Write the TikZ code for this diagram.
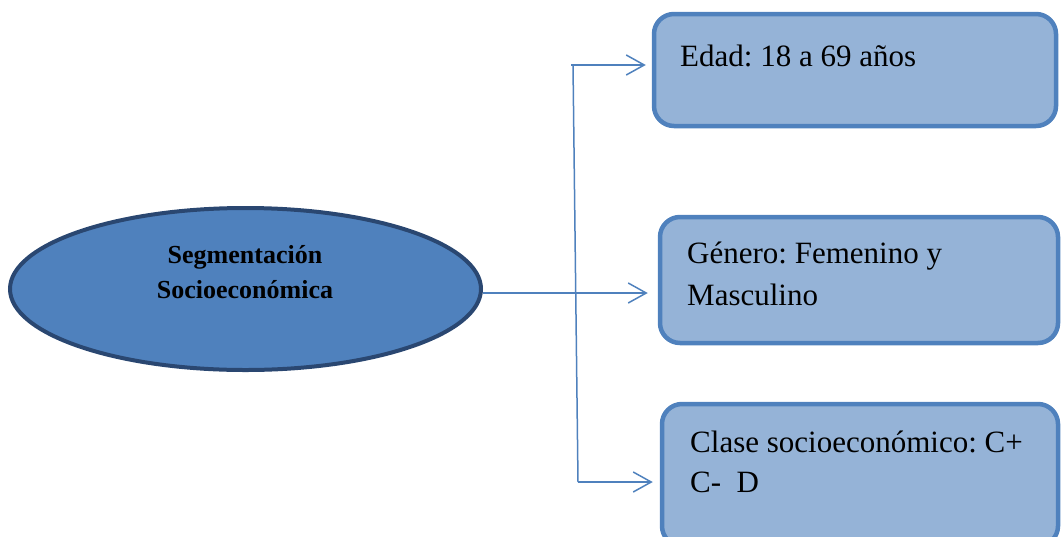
\documentclass[tikz,border=0pt]{standalone}
\usepackage{fontspec}
\setmainfont{Liberation Serif}
\usetikzlibrary{arrows.meta,shapes.geometric}
\frenchspacing
\definecolor{ovalfill}{HTML}{4F81BD}
\definecolor{ovalline}{HTML}{2A4771}
\definecolor{boxfill}{HTML}{95B3D7}
\definecolor{boxline}{HTML}{4F81BD}
\definecolor{linkcol}{HTML}{4F81BD}
\tikzset{
  oval/.style={ellipse, draw=ovalline, fill=ovalfill, line width=4pt, inner sep=0pt},
  infobox/.style={rectangle, rounded corners=20pt, draw=boxline, fill=boxfill, line width=4.5pt, inner sep=0pt},
  boxtext/.style={anchor=base west, inner sep=0pt, font=\fontsize{31}{42}\selectfont},
  ovaltext/.style={anchor=base, inner sep=0pt, font=\fontsize{26}{35}\selectfont\bfseries},
  link/.style={draw=linkcol, line width=1.5pt},
  linkarrow/.style={link, -{Straight Barb[length=18pt,width=20pt,line width=1.5pt]}}
}
\begin{document}
\begin{tikzpicture}[x=1pt,y=-1pt]
\useasboundingbox (0,0) rectangle (1062,536);
% central topic
\node[oval, minimum width=471pt, minimum height=162pt] (seg) at (245.5,289) {};
\node[ovaltext] (segt1) at (245,263) {Segmentación};
\node[ovaltext] (segt2) at (245,298) {Socioeconómica};
% category boxes
\node[infobox, minimum width=402pt, minimum height=112pt] (edad) at (855,70) {};
\node[infobox, minimum width=398pt, minimum height=126pt] (gen) at (859,280) {};
\node[infobox, minimum width=396pt, minimum height=142pt] (clase) at (860,475) {};
\node[boxtext] (edadt) at (680,66) {Edad: 18 a 69 años};
\node[boxtext] (gent1) at (687,263) {Género: Femenino y};
\node[boxtext] (gent2) at (687,305) {Masculino};
\node[boxtext] (claset1) at (690,452) {Clase socioeconómico: C+};
\node[boxtext] (claset2) at (690,492) {C-\ \ D};
% connectors
\coordinate (spinetop) at (573,65);
\coordinate (spinebot) at (578,482);
\coordinate (segout) at ([yshift=-4pt]seg.east);
\draw[link] (spinetop) -- (spinebot);
\draw[linkarrow, shorten >=6pt] ([xshift=-2pt]spinetop) -- (edad.west |- spinetop);
\draw[linkarrow, shorten >=10pt] (segout) -- (gen.west |- segout);
\draw[linkarrow, shorten >=7pt] (spinebot) -- (clase.west |- spinebot);
\end{tikzpicture}
\end{document}
